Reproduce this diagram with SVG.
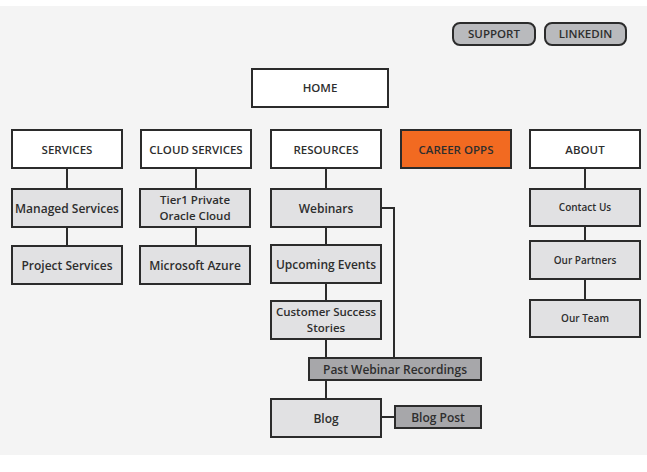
<svg xmlns="http://www.w3.org/2000/svg" width="647" height="472" viewBox="0 0 647 472">
<style>
text{font-family:"Open Sans","Liberation Sans",sans-serif;font-weight:600;fill:#2e2e2e;text-anchor:middle}
.b{stroke:#2b2b2b;stroke-width:2}
.w{fill:#fff}
.g{fill:#e1e1e3}
.d{fill:#a7a7aa}
.btn{fill:#b9babd}
.o{fill:#f26a21}
.t1{font-size:11.5px}
.t2{font-size:12px}
.t4{font-size:11.5px}
.t3{font-size:10px}
.c{fill:none;stroke:#2b2b2b;stroke-width:2}
</style>
<rect width="647" height="472" fill="#fff"/>
<rect x="0" y="6" width="647" height="449" fill="#f4f4f4"/>
<g id="connectors">
<path class="c" d="M67 168V189M67 227V246"/>
<path class="c" d="M196 168V189M196 227V246"/>
<path class="c" d="M326 168V189M326 227V245M326 283V301M326 339V358M326 380V399"/>
<path class="c" d="M381 208H394V358"/>
<path class="c" d="M381 417H395"/>
<path class="c" d="M585 168V189M585 226V241M585 279V300"/>
</g>
<g id="support"><rect class="b btn" x="453" y="23" width="82" height="22" rx="7"/><text class="t1" x="494" y="38">SUPPORT</text></g>
<g id="linkedin"><rect class="b btn" x="545" y="23" width="81" height="22" rx="7"/><text class="t1" x="585.5" y="38">LINKEDIN</text></g>
<g id="home"><rect class="b w" x="252" y="69" width="136" height="38"/><text class="t1" x="320" y="92">HOME</text></g>
<g id="services"><rect class="b w" x="12" y="130" width="110" height="38"/><text class="t1" x="67" y="153.5">SERVICES</text></g>
<g id="cloud-services"><rect class="b w" x="141" y="130" width="110" height="38"/><text class="t1" x="196" y="153.5">CLOUD SERVICES</text></g>
<g id="resources"><rect class="b w" x="271" y="130" width="110" height="38"/><text class="t1" x="326" y="153.5">RESOURCES</text></g>
<g id="career-opps"><rect class="b o" x="401" y="130" width="110" height="38"/><text class="t1" x="456" y="153.5">CAREER OPPS</text></g>
<g id="about"><rect class="b w" x="530" y="130" width="110" height="38"/><text class="t1" x="585" y="153.5">ABOUT</text></g>
<g id="managed-services"><rect class="b g" x="12" y="189" width="110" height="38"/><text class="t2" x="67" y="212.5">Managed Services</text></g>
<g id="project-services"><rect class="b g" x="12" y="246" width="110" height="38"/><text class="t2" x="67" y="270">Project Services</text></g>
<g id="tier1"><rect class="b g" x="140" y="189" width="110" height="38"/><text class="t4" x="195" y="204">Tier1 Private<tspan x="195" dy="15.7">Oracle Cloud</tspan></text></g>
<g id="microsoft-azure"><rect class="b g" x="140" y="246" width="110" height="38"/><text class="t2" x="195" y="270">Microsoft Azure</text></g>
<g id="webinars"><rect class="b g" x="271" y="189" width="110" height="38"/><text class="t2" x="326" y="212.5">Webinars</text></g>
<g id="upcoming-events"><rect class="b g" x="271" y="245" width="110" height="38"/><text class="t2" x="326" y="269">Upcoming Events</text></g>
<g id="customer-success"><rect class="b g" x="271" y="301" width="110" height="38"/><text class="t4" x="326" y="316">Customer Success<tspan x="326" dy="15.7">Stories</tspan></text></g>
<g id="past-webinar-recordings"><rect class="b d" x="309" y="358" width="172" height="22"/><text class="t2" x="395" y="373.5">Past Webinar Recordings</text></g>
<g id="blog"><rect class="b g" x="271" y="399" width="110" height="38"/><text class="t2" x="326" y="422.5">Blog</text></g>
<g id="blog-post"><rect class="b d" x="395" y="406" width="86" height="22"/><text class="t2" x="438" y="421.5">Blog Post</text></g>
<g id="contact-us"><rect class="b g" x="530" y="189" width="110" height="37"/><text class="t3" x="585" y="211">Contact Us</text></g>
<g id="our-partners"><rect class="b g" x="530" y="241" width="110" height="38"/><text class="t3" x="585" y="263.5">Our Partners</text></g>
<g id="our-team"><rect class="b g" x="530" y="300" width="110" height="37"/><text class="t3" x="585" y="322">Our Team</text></g>
</svg>
